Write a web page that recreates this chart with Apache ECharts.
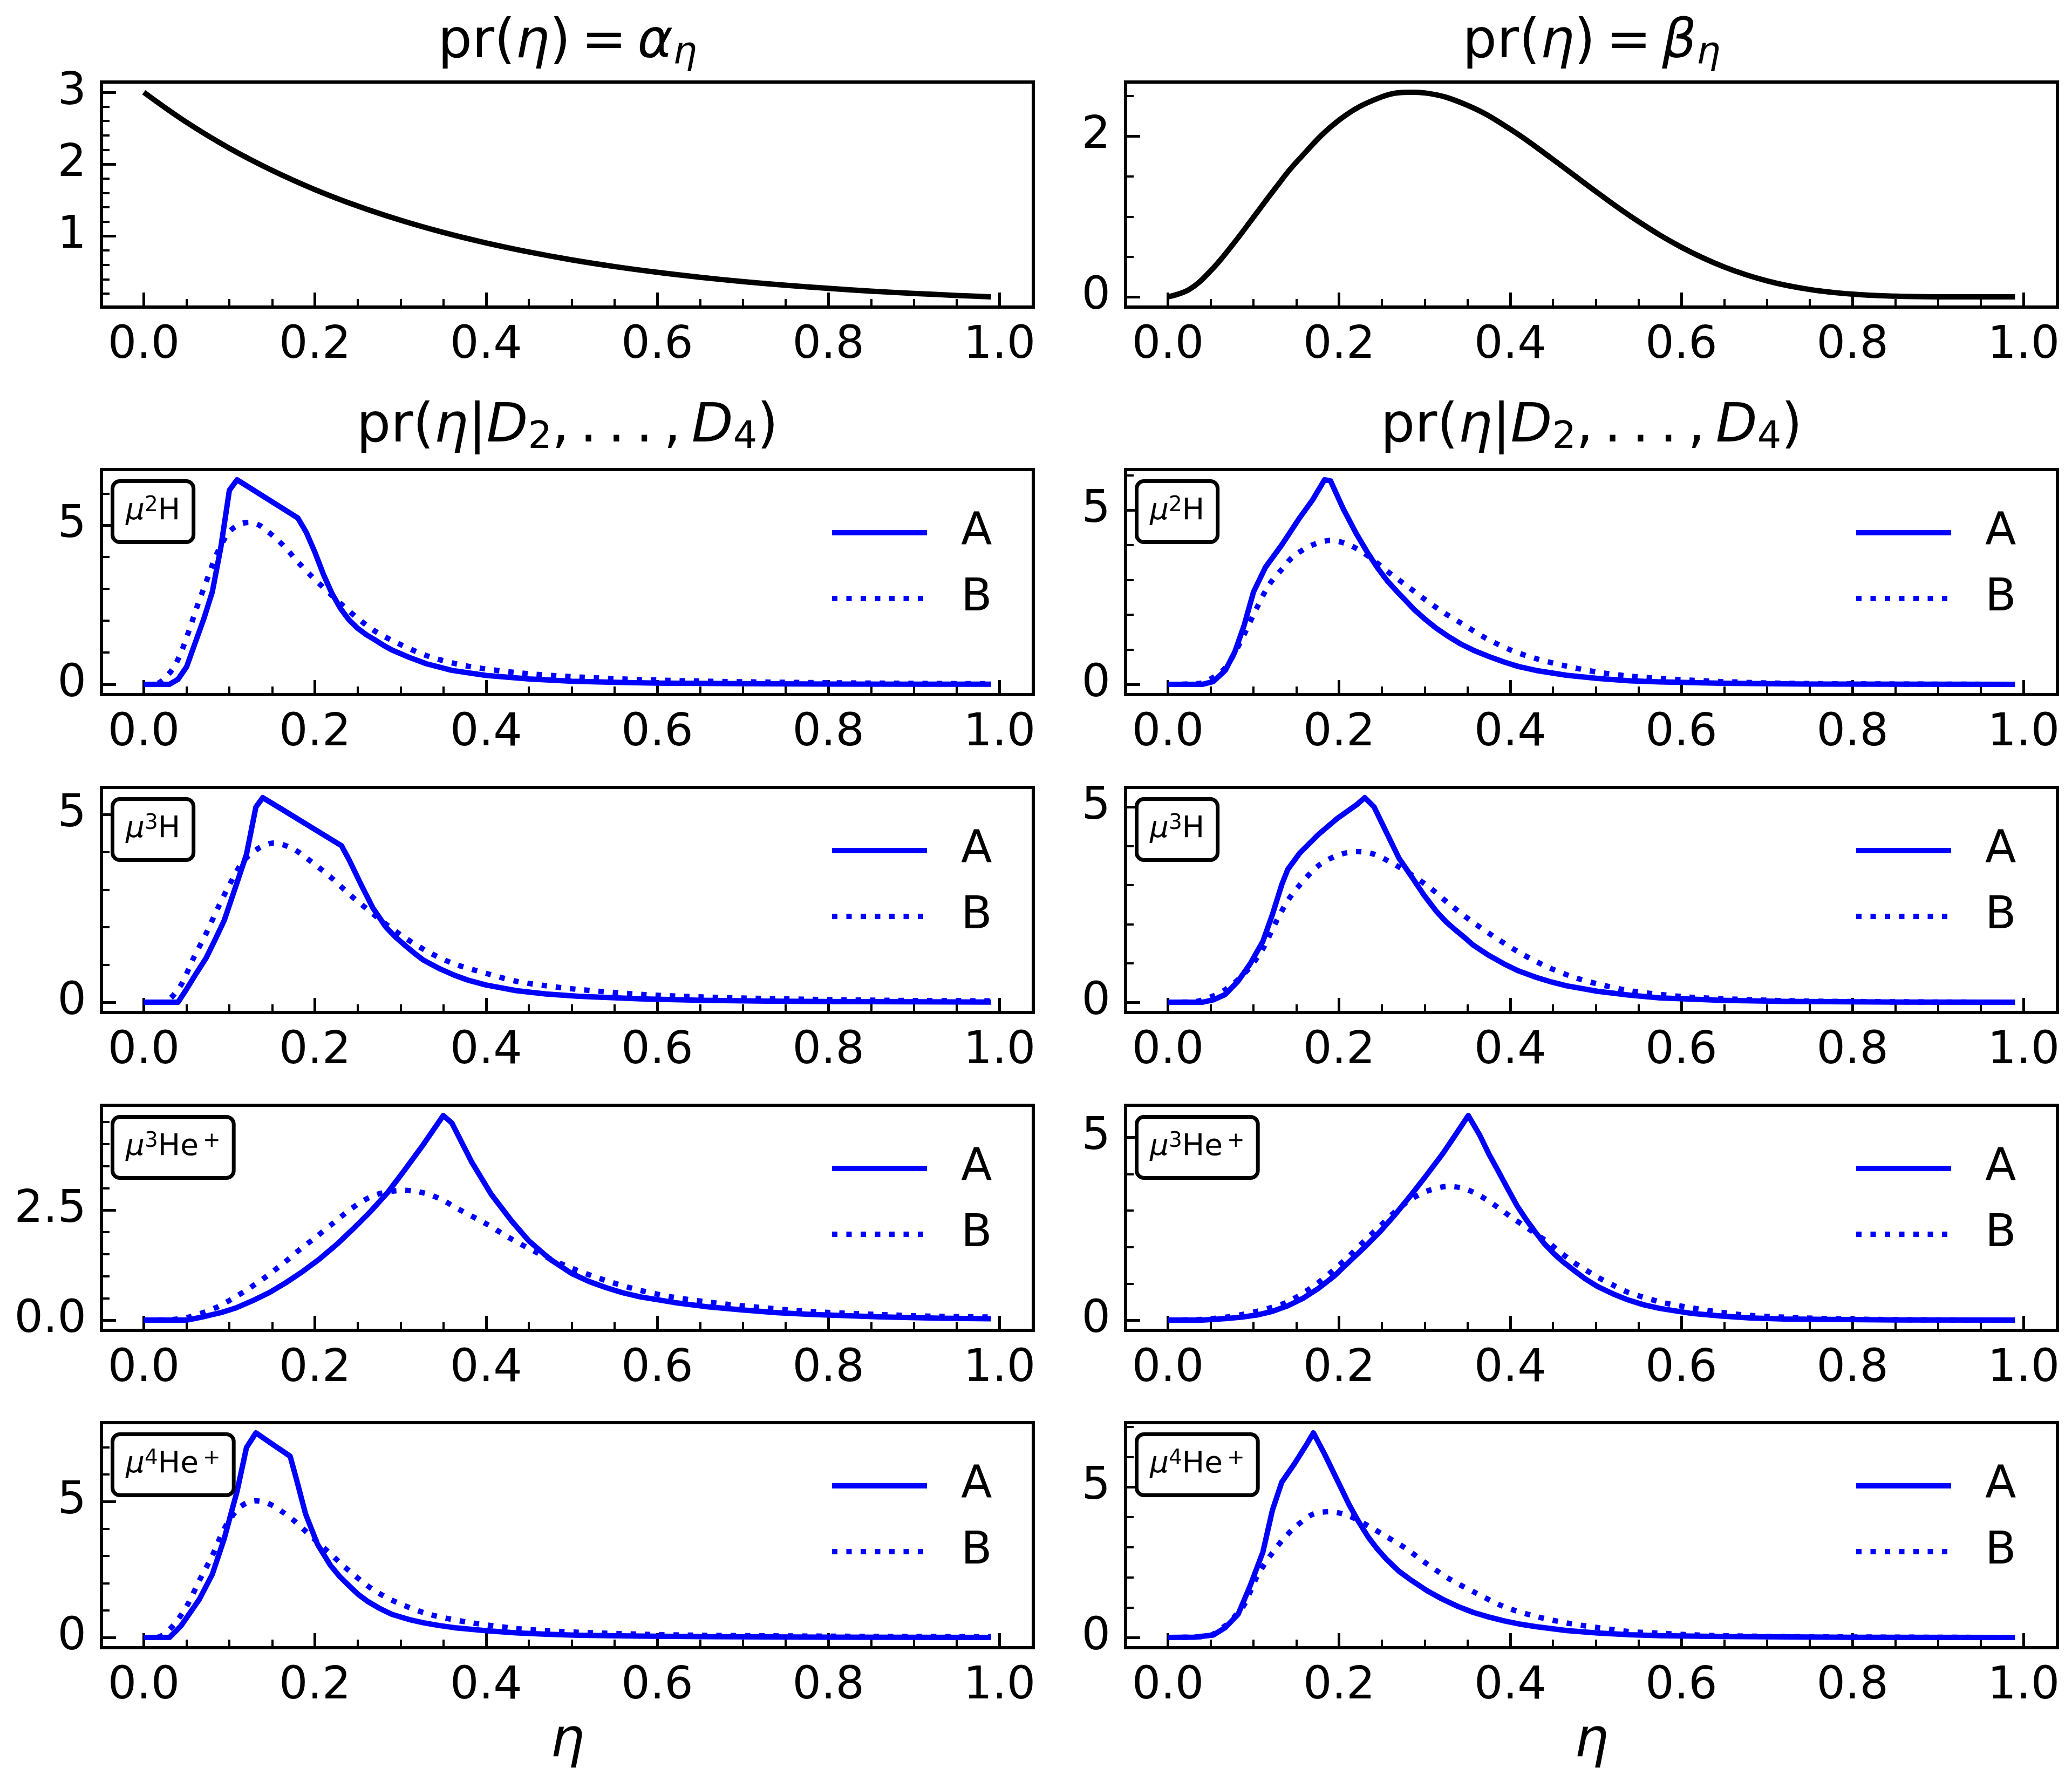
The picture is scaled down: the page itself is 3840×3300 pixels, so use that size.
<!DOCTYPE html>
<html><head><meta charset="utf-8">
<script src="https://cdn.jsdelivr.net/npm/echarts@6/dist/echarts.min.js"></script>
<style>html,body{margin:0;padding:0;background:#fff}#c{width:3840px;height:3300px}</style>
</head><body><div id="c"></div>
<script>
// ---------------- data ----------------
const alphaEta = [0,0.05,0.1,0.15,0.2,0.25,0.3,0.35,0.4,0.45,0.5,0.55,0.6,0.65,0.7,0.75,0.8,0.85,0.9,0.95,0.99];
const alphaVal = [3.000,2.582,2.222,1.913,1.646,1.417,1.220,1.050,0.904,0.778,0.669,0.576,0.496,0.427,0.367,0.316,0.272,0.234,0.202,0.174,0.154];
const betaEta = [0,0.025,0.05,0.075,0.1,0.125,0.15,0.2,0.25,0.285,0.3,0.35,0.4,0.45,0.5,0.55,0.6,0.65,0.7,0.75,0.8,0.85,0.9,0.95,0.99];
const betaVal = [0,0.093,0.325,0.641,0.992,1.346,1.677,2.202,2.492,2.549,2.541,2.387,2.090,1.712,1.313,0.938,0.619,0.373,0.200,0.092,0.034,0.009,0.001,0,0];

const h2L_A = [[0,0],[0.03,0],[0.04,0.16],[0.05,0.55],[0.06,1.3],[0.07,2.05],[0.08,2.9],[0.09,4.3],[0.1,6.1],[0.109,6.43],[0.18,5.23],[0.19,4.77],[0.2,4.15],[0.21,3.45],[0.22,2.85],[0.23,2.38],[0.24,2.02],[0.25,1.76],[0.26,1.56],[0.27,1.4],[0.28,1.23],[0.29,1.08],[0.31,0.85],[0.33,0.65],[0.36,0.44],[0.4,0.28],[0.45,0.17],[0.5,0.1],[0.55,0.065],[0.6,0.04],[0.7,0.02],[0.8,0.01],[0.9,0.005],[0.99,0.003]];
const h2L_B = [[0,0],[0.015,0.02],[0.025,0.2],[0.036,0.58],[0.045,1.1],[0.054,1.78],[0.063,2.5],[0.0725,3.19],[0.08,3.75],[0.087,4.2],[0.1,4.8],[0.112,5.03],[0.123,5.09],[0.135,5.0],[0.145,4.8],[0.156,4.55],[0.167,4.25],[0.181,3.82],[0.196,3.4],[0.218,2.84],[0.24,2.3],[0.268,1.71],[0.297,1.29],[0.334,0.87],[0.377,0.58],[0.435,0.37],[0.508,0.23],[0.58,0.15],[0.653,0.1],[0.73,0.07],[0.8,0.05],[0.9,0.03],[0.99,0.02]];
const h2R_A = [[0,0],[0.04,0],[0.053,0.08],[0.067,0.4],[0.078,0.92],[0.089,1.69],[0.1,2.65],[0.114,3.36],[0.133,4.0],[0.154,4.78],[0.169,5.29],[0.183,5.87],[0.19,5.84],[0.205,5.03],[0.22,4.33],[0.234,3.75],[0.245,3.34],[0.256,2.98],[0.267,2.68],[0.278,2.4],[0.288,2.14],[0.299,1.9],[0.313,1.62],[0.328,1.37],[0.342,1.16],[0.357,0.98],[0.375,0.8],[0.393,0.64],[0.41,0.51],[0.43,0.4],[0.466,0.26],[0.502,0.17],[0.54,0.1],[0.575,0.07],[0.647,0.03],[0.75,0.01],[0.99,0]];
const h2R_B = [[0,0],[0.038,0.03],[0.053,0.2],[0.067,0.47],[0.078,0.9],[0.089,1.43],[0.104,2.2],[0.118,2.85],[0.133,3.3],[0.147,3.68],[0.169,4.0],[0.19,4.13],[0.212,4.0],[0.234,3.68],[0.256,3.25],[0.278,2.85],[0.299,2.46],[0.321,2.08],[0.343,1.75],[0.372,1.32],[0.401,0.98],[0.43,0.74],[0.466,0.52],[0.502,0.35],[0.538,0.24],[0.575,0.17],[0.61,0.12],[0.647,0.08],[0.72,0.03],[0.85,0.01],[0.99,0]];
const h3L_A = [[0,0],[0.04,0],[0.05,0.35],[0.06,0.72],[0.0726,1.17],[0.083,1.65],[0.094,2.18],[0.109,3.19],[0.12,3.94],[0.131,5.2],[0.139,5.45],[0.16,5.16],[0.19,4.74],[0.231,4.17],[0.24,3.79],[0.254,3.13],[0.268,2.5],[0.283,2.0],[0.294,1.74],[0.305,1.52],[0.316,1.31],[0.327,1.12],[0.345,0.9],[0.363,0.72],[0.38,0.58],[0.4,0.46],[0.435,0.31],[0.47,0.22],[0.508,0.16],[0.58,0.09],[0.653,0.05],[0.73,0.03],[0.8,0.02],[0.9,0.01],[0.99,0.005]];
const h3L_B = [[0,0],[0.02,0],[0.029,0.06],[0.0435,0.46],[0.058,1.17],[0.0726,1.82],[0.087,2.53],[0.1015,3.19],[0.116,3.75],[0.134,4.1],[0.152,4.24],[0.174,4.09],[0.196,3.74],[0.218,3.34],[0.24,2.88],[0.261,2.48],[0.283,2.08],[0.305,1.72],[0.334,1.32],[0.363,1.02],[0.4,0.77],[0.435,0.56],[0.47,0.44],[0.508,0.34],[0.58,0.21],[0.653,0.14],[0.726,0.1],[0.8,0.07],[0.87,0.05],[0.99,0.035]];
const h3R_A = [[0,0],[0.04,0],[0.053,0.06],[0.067,0.2],[0.082,0.54],[0.096,0.98],[0.111,1.56],[0.122,2.24],[0.133,3.01],[0.14,3.4],[0.154,3.82],[0.176,4.3],[0.198,4.71],[0.22,5.05],[0.23,5.24],[0.241,5.0],[0.256,4.32],[0.27,3.69],[0.285,3.21],[0.299,2.75],[0.314,2.32],[0.325,2.06],[0.336,1.85],[0.347,1.65],[0.357,1.46],[0.375,1.2],[0.393,0.98],[0.41,0.8],[0.43,0.64],[0.448,0.52],[0.466,0.42],[0.502,0.28],[0.54,0.18],[0.575,0.11],[0.647,0.05],[0.72,0.02],[0.85,0.005],[0.99,0]];
const h3R_B = [[0,0],[0.03,0.01],[0.053,0.16],[0.067,0.32],[0.082,0.58],[0.096,0.9],[0.111,1.37],[0.125,2.0],[0.14,2.6],[0.154,3.0],[0.176,3.5],[0.198,3.76],[0.22,3.86],[0.241,3.79],[0.263,3.55],[0.285,3.26],[0.307,2.92],[0.328,2.53],[0.357,2.04],[0.386,1.61],[0.415,1.22],[0.444,0.9],[0.473,0.65],[0.502,0.47],[0.538,0.3],[0.575,0.2],[0.61,0.13],[0.647,0.09],[0.72,0.04],[0.79,0.02],[0.9,0.005],[0.99,0]];
const he3L_A = [[0,0],[0.05,0],[0.068,0.07],[0.09,0.17],[0.108,0.28],[0.127,0.44],[0.147,0.63],[0.166,0.85],[0.186,1.11],[0.206,1.4],[0.226,1.73],[0.245,2.08],[0.265,2.47],[0.285,2.9],[0.304,3.39],[0.327,4.0],[0.35,4.65],[0.36,4.48],[0.383,3.6],[0.406,2.86],[0.43,2.25],[0.45,1.8],[0.475,1.38],[0.5,1.06],[0.52,0.88],[0.54,0.74],[0.56,0.62],[0.58,0.53],[0.62,0.4],[0.66,0.3],[0.7,0.23],[0.74,0.17],[0.78,0.13],[0.86,0.075],[0.93,0.045],[0.99,0.03]];
const he3L_B = [[0,0],[0.03,0.01],[0.053,0.07],[0.084,0.28],[0.103,0.48],[0.123,0.72],[0.143,0.99],[0.163,1.29],[0.182,1.6],[0.202,1.9],[0.221,2.2],[0.241,2.51],[0.257,2.72],[0.273,2.86],[0.29,2.93],[0.304,2.95],[0.32,2.92],[0.336,2.84],[0.352,2.7],[0.367,2.53],[0.399,2.2],[0.43,1.84],[0.461,1.52],[0.5,1.18],[0.54,0.9],[0.579,0.68],[0.619,0.52],[0.66,0.41],[0.697,0.33],[0.776,0.2],[0.855,0.13],[0.92,0.09],[0.99,0.07]];
const he3R_A = [[0,0],[0.04,0],[0.067,0.04],[0.086,0.08],[0.104,0.14],[0.122,0.24],[0.14,0.39],[0.158,0.6],[0.176,0.87],[0.194,1.2],[0.212,1.6],[0.23,2.0],[0.249,2.45],[0.267,2.93],[0.285,3.45],[0.3,3.9],[0.321,4.55],[0.336,5.07],[0.351,5.6],[0.364,5.08],[0.375,4.55],[0.386,4.08],[0.397,3.6],[0.408,3.13],[0.419,2.74],[0.43,2.39],[0.44,2.09],[0.451,1.82],[0.462,1.59],[0.473,1.39],[0.487,1.14],[0.502,0.92],[0.52,0.72],[0.538,0.55],[0.556,0.42],[0.575,0.32],[0.61,0.19],[0.647,0.11],[0.68,0.06],[0.72,0.03],[0.85,0.005],[0.99,0]];
const he3R_B = [[0,0],[0.04,0.02],[0.067,0.08],[0.086,0.15],[0.104,0.24],[0.122,0.35],[0.14,0.5],[0.158,0.74],[0.176,1.03],[0.194,1.38],[0.212,1.76],[0.23,2.18],[0.249,2.6],[0.267,3.0],[0.285,3.32],[0.305,3.55],[0.328,3.66],[0.343,3.62],[0.357,3.5],[0.372,3.3],[0.386,3.08],[0.4,2.84],[0.415,2.6],[0.444,2.13],[0.473,1.6],[0.502,1.18],[0.52,0.96],[0.538,0.76],[0.575,0.5],[0.611,0.34],[0.647,0.21],[0.68,0.13],[0.72,0.08],[0.79,0.03],[0.9,0.005],[0.99,0]];
const he4L_A = [[0,0],[0.03,0],[0.0435,0.43],[0.055,0.95],[0.065,1.41],[0.08,2.32],[0.094,3.64],[0.109,5.38],[0.12,6.99],[0.131,7.53],[0.15,7.12],[0.171,6.67],[0.178,5.87],[0.189,4.55],[0.203,3.43],[0.218,2.66],[0.229,2.24],[0.24,1.9],[0.25,1.6],[0.261,1.34],[0.275,1.08],[0.29,0.85],[0.31,0.66],[0.327,0.54],[0.345,0.44],[0.363,0.36],[0.4,0.25],[0.435,0.17],[0.47,0.12],[0.508,0.08],[0.58,0.05],[0.653,0.03],[0.8,0.01],[0.99,0]];
const he4L_B = [[0,0],[0.015,0.01],[0.022,0.08],[0.036,0.5],[0.051,1.2],[0.065,2.1],[0.08,3.01],[0.094,4.0],[0.109,4.7],[0.12,4.95],[0.131,5.03],[0.142,4.97],[0.152,4.83],[0.163,4.6],[0.174,4.34],[0.196,3.71],[0.218,3.08],[0.24,2.45],[0.268,1.76],[0.297,1.27],[0.334,0.85],[0.377,0.57],[0.435,0.33],[0.47,0.25],[0.508,0.19],[0.58,0.12],[0.653,0.08],[0.726,0.06],[0.85,0.04],[0.99,0.03]];
const he4R_A = [[0,0],[0.031,0.01],[0.053,0.08],[0.067,0.33],[0.082,0.77],[0.096,1.71],[0.111,2.84],[0.122,4.22],[0.133,5.16],[0.148,5.78],[0.162,6.41],[0.17,6.8],[0.183,6.1],[0.198,5.22],[0.212,4.4],[0.223,3.84],[0.234,3.34],[0.245,2.93],[0.256,2.58],[0.27,2.2],[0.285,1.89],[0.303,1.55],[0.321,1.27],[0.339,1.03],[0.357,0.83],[0.375,0.68],[0.393,0.55],[0.41,0.45],[0.43,0.36],[0.466,0.23],[0.502,0.15],[0.54,0.09],[0.575,0.06],[0.647,0.03],[0.8,0.005],[0.99,0]];
const he4R_B = [[0,0],[0.046,0.04],[0.067,0.39],[0.078,0.7],[0.089,1.08],[0.104,2.02],[0.118,2.65],[0.133,3.21],[0.148,3.65],[0.169,4.09],[0.19,4.18],[0.212,4.03],[0.234,3.71],[0.256,3.34],[0.278,2.96],[0.299,2.52],[0.328,1.96],[0.357,1.52],[0.393,1.02],[0.43,0.7],[0.466,0.48],[0.502,0.33],[0.538,0.2],[0.575,0.14],[0.61,0.09],[0.647,0.06],[0.72,0.03],[0.85,0.01],[0.99,0]];

// tick values
const xMajor = [0,0.2,0.4,0.6,0.8,1.0];
const xMinor = [0.05,0.1,0.15,0.25,0.3,0.35,0.45,0.5,0.55,0.65,0.7,0.75,0.85,0.9,0.95];
const yMajAlpha = [1,2,3], yMinAlpha = [0.2,0.4,0.6,0.8,1.2,1.4,1.6,1.8,2.2,2.4,2.6,2.8];
const yMajBeta = [0,2], yMinBeta = [0.5,1,1.5,2.5];
const yMaj05 = [0,5];
const yMin6 = [1,2,3,4,6], yMin4 = [1,2,3,4], yMin7 = [1,2,3,4,6,7];
const yMajHe3L = [0,2.5], yMinHe3L = [0.5,1,1.5,2,3,3.5,4,4.5];

// ---------------- layout ----------------
const FONT = 'DejaVu Sans';
const colLeft = [188, 2086];
const gridW = 1727, gridH = 417;
const rowTop = [152, 870, 1459, 2048, 2636];
const BLUE = '#0000ff';
const LW = 10;
const DOT = [10, 16.5];
const TS = '\u2009';

const pairs = (xs, ys) => xs.map((x, i) => [x, ys[i]]);
const intFmt = v => String(v);
const f1 = v => v.toFixed(1);

const panels = [
  {r:0,c:0, s:[{name:'alpha', d:pairs(alphaEta, alphaVal), color:'#000', dot:false, smooth:true}], yMaj:yMajAlpha, yMin:yMinAlpha, fmt:intFmt},
  {r:0,c:1, s:[{name:'beta', d:pairs(betaEta, betaVal), color:'#000', dot:false, smooth:true}], yMaj:yMajBeta, yMin:yMinBeta, fmt:intFmt},
  {r:1,c:0, s:[{name:'A', d:h2L_A},{name:'B', d:h2L_B, dot:true}], yMaj:yMaj05, yMin:yMin6, fmt:intFmt, label:'{mu|μ}{sup|2}{n|H}'},
  {r:1,c:1, s:[{name:'A', d:h2R_A},{name:'B', d:h2R_B, dot:true}], yMaj:yMaj05, yMin:yMin6, fmt:intFmt, label:'{mu|μ}{sup|2}{n|H}'},
  {r:2,c:0, s:[{name:'A', d:h3L_A},{name:'B', d:h3L_B, dot:true}], yMaj:yMaj05, yMin:yMin4, fmt:intFmt, label:'{mu|μ}{sup|3}{n|H}'},
  {r:2,c:1, s:[{name:'A', d:h3R_A},{name:'B', d:h3R_B, dot:true}], yMaj:yMaj05, yMin:yMin4, fmt:intFmt, label:'{mu|μ}{sup|3}{n|H}'},
  {r:3,c:0, s:[{name:'A', d:he3L_A},{name:'B', d:he3L_B, dot:true}], yMaj:yMajHe3L, yMin:yMinHe3L, fmt:f1, label:'{mu|μ}{sup|3}{n|He}{sp|+}'},
  {r:3,c:1, s:[{name:'A', d:he3R_A},{name:'B', d:he3R_B, dot:true}], yMaj:yMaj05, yMin:yMin4, fmt:intFmt, label:'{mu|μ}{sup|3}{n|He}{sp|+}'},
  {r:4,c:0, s:[{name:'A', d:he4L_A},{name:'B', d:he4L_B, dot:true}], yMaj:yMaj05, yMin:yMin7, fmt:intFmt, label:'{mu|μ}{sup|4}{n|He}{sp|+}'},
  {r:4,c:1, s:[{name:'A', d:he4R_A},{name:'B', d:he4R_B, dot:true}], yMaj:yMaj05, yMin:yMin7, fmt:intFmt, label:'{mu|μ}{sup|4}{n|He}{sp|+}'}
];

const grid = [], xAxis = [], yAxis = [], series = [], legend = [], graphic = [];
const labelFont = {fontSize: 84, fontFamily: FONT, color: '#000'};

panels.forEach((p, i) => {
  const gl = colLeft[p.c], gt = rowTop[p.r];
  grid.push({left: gl, top: gt, width: gridW, height: gridH, show: true, borderColor: '#000', borderWidth: 6, backgroundColor: 'rgba(0,0,0,0)'});
  let lo = Infinity, hi = -Infinity;
  p.s.forEach(s => s.d.forEach(pt => { lo = Math.min(lo, pt[1]); hi = Math.max(hi, pt[1]); }));
  const pad = 0.05 * (hi - lo);
  const xBase = {type: 'value', gridIndex: i, position: 'bottom', min: -0.0495, max: 1.0395, axisLine: {show: false, onZero: false}, splitLine: {show: false}};
  xAxis.push(Object.assign({}, xBase, {
    axisTick: {show: true, inside: true, length: 27, lineStyle: {color: '#000', width: 5}, customValues: xMajor},
    axisLabel: Object.assign({show: true, customValues: xMajor, formatter: f1, margin: 30}, labelFont)
  }));
  xAxis.push(Object.assign({}, xBase, {
    axisTick: {show: true, inside: true, length: 15, lineStyle: {color: '#000', width: 4}, customValues: xMinor},
    axisLabel: {show: false}
  }));
  const yBase = {type: 'value', gridIndex: i, position: 'left', min: lo - pad, max: hi + pad, axisLine: {show: false, onZero: false}, splitLine: {show: false}};
  yAxis.push(Object.assign({}, yBase, {
    axisTick: {show: true, inside: true, length: 27, lineStyle: {color: '#000', width: 5}, customValues: p.yMaj},
    axisLabel: Object.assign({show: true, customValues: p.yMaj, formatter: p.fmt, margin: 28}, labelFont)
  }));
  yAxis.push(Object.assign({}, yBase, {
    axisTick: {show: true, inside: true, length: 15, lineStyle: {color: '#000', width: 4}, customValues: p.yMin},
    axisLabel: {show: false}
  }));
  p.s.forEach(s => {
    series.push({
      type: 'line', name: s.name, xAxisIndex: 2 * i, yAxisIndex: 2 * i, data: s.d,
      symbol: 'none', showSymbol: false, smooth: s.smooth ? 0.4 : (s.dot ? 0.3 : false),
      lineStyle: {color: s.color || BLUE, width: LW, type: s.dot ? DOT : 'solid', cap: 'butt', join: 'round'},
      itemStyle: {color: s.color || BLUE},
      emphasis: {disabled: true}, silent: true, z: 3
    });
  });
  if (p.label) {
    legend.push({
      left: gl + 1349, top: gt + 75, orient: 'vertical', padding: 0,
      itemWidth: 176, itemHeight: 20, itemGap: 38, selectedMode: false,
      data: ['A', 'B'],
      itemStyle: {color: 'rgba(0,0,0,0)', borderWidth: 0, borderColor: 'rgba(0,0,0,0)', opacity: 0},
      lineStyle: {width: LW, color: BLUE, opacity: 1},
      textStyle: {fontSize: 84, fontFamily: FONT, color: '#000', lineHeight: 84, padding: [0, 0, 0, 58]}
    });
    graphic.push({
      type: 'text', x: gl + 24, y: gt + 25, z: 100,
      style: {
        text: p.label, align: 'left', verticalAlign: 'top',
        backgroundColor: '#fff', borderColor: '#000', borderWidth: 7, borderRadius: 10, padding: [22, 21],
        rich: {
          mu: {fontSize: 55, fontStyle: 'italic', fontFamily: FONT, fill: '#000', lineHeight: 62},
          n: {fontSize: 55, fontFamily: FONT, fill: '#000', lineHeight: 62},
          sup: {fontSize: 39, fontFamily: FONT, fill: '#000', lineHeight: 34, verticalAlign: 'top'},
          sp: {fontSize: 39, fontFamily: FONT, fill: '#000', lineHeight: 34, verticalAlign: 'top', padding: [0, 0, 0, 8]}
        }
      }
    });
  }
});

const RT = {
  n: {fontSize: 100, fontFamily: FONT, fill: '#000', lineHeight: 110},
  i: {fontSize: 100, fontFamily: FONT, fontStyle: 'italic', fill: '#000', lineHeight: 110},
  s: {fontSize: 70, fontFamily: FONT, fontStyle: 'italic', fill: '#000', lineHeight: 74, verticalAlign: 'bottom'},
  s2: {fontSize: 70, fontFamily: FONT, fill: '#000', lineHeight: 74, verticalAlign: 'bottom'}
};
const cx = [colLeft[0] + gridW / 2, colLeft[1] + gridW / 2];
graphic.push({type: 'text', x: cx[0], y: 80, style: {text: '{n|pr(}{i|η}{n|)' + TS + '=' + TS + '}{i|α}{s|η}', rich: RT, align: 'center', verticalAlign: 'middle'}});
graphic.push({type: 'text', x: cx[1], y: 80, style: {text: '{n|pr(}{i|η}{n|)' + TS + '=' + TS + '}{i|β}{s|η}', rich: RT, align: 'center', verticalAlign: 'middle'}});
[0, 1].forEach(c => {
  graphic.push({type: 'text', x: cx[c], y: 792, style: {text: '{n|pr(}{i|η}{n||}{i|D}{s2|2}{n|,' + TS + '.' + TS + '.' + TS + '.' + TS + ',' + TS + '}{i|D}{s2|4}{n|)}', rich: RT, align: 'center', verticalAlign: 'middle'}});
  graphic.push({type: 'text', x: cx[c], y: 3228, style: {text: 'η', fontSize: 100, fontFamily: FONT, fontStyle: 'italic', fill: '#000', align: 'center', verticalAlign: 'middle'}});
});

const chart = echarts.init(document.getElementById('c'), null, {renderer: 'canvas'});
chart.setOption({
  animation: false, backgroundColor: '#fff',
  grid, xAxis, yAxis, series, legend, graphic
});
</script>
</body></html>
